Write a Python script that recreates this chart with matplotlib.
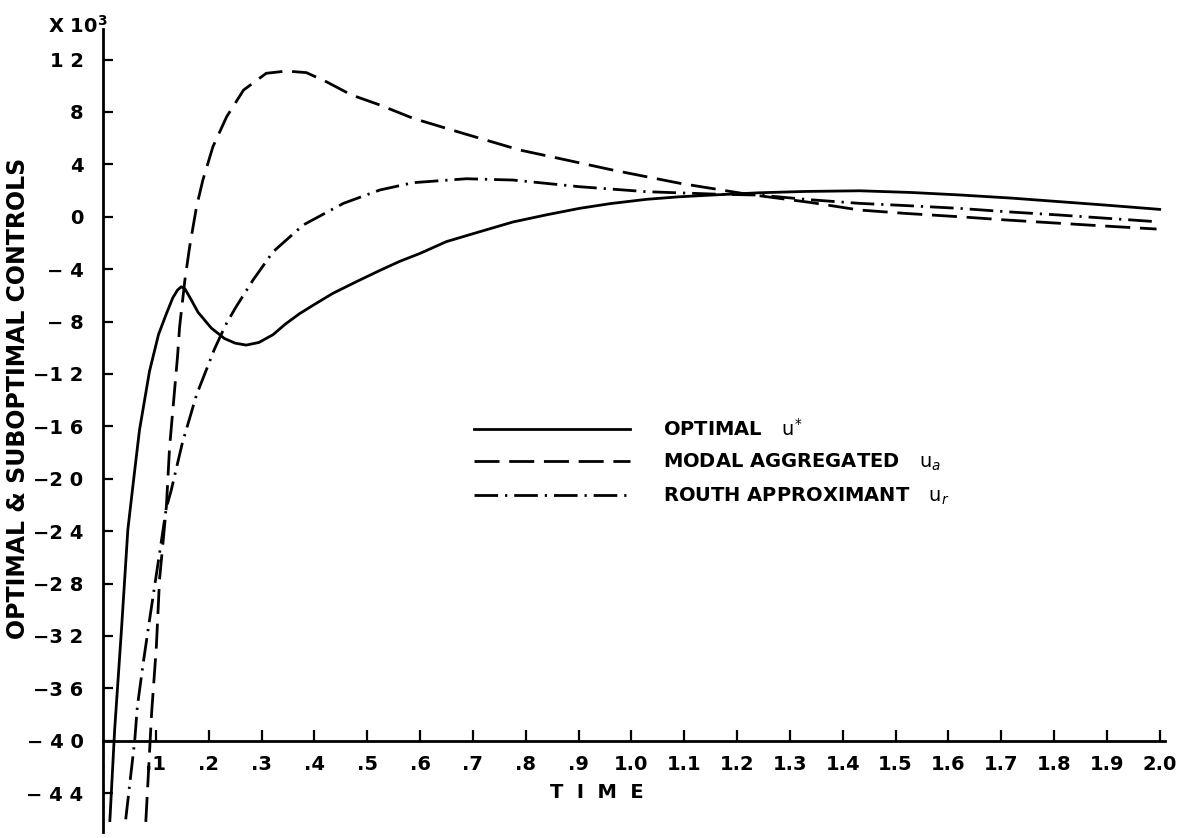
import numpy as np
import matplotlib
matplotlib.use("Agg")
import matplotlib.pyplot as plt

# ---------------- data (values in units of 10^3) ----------------
t_opt = [0.013, 0.022, 0.035, 0.047, 0.057, 0.069, 0.088, 0.105, 0.12, 0.132,
         0.141, 0.148, 0.155, 0.165, 0.18, 0.205, 0.23, 0.25, 0.271, 0.295,
         0.322, 0.345, 0.372, 0.4, 0.435, 0.48, 0.524, 0.562, 0.6, 0.65,
         0.7, 0.776, 0.84, 0.902, 0.96, 1.029, 1.09, 1.155, 1.243, 1.33,
         1.432, 1.53, 1.622, 1.72, 1.81, 1.9, 2.0]
u_opt = [-46.1, -39.2, -31.5, -23.9, -20.4, -16.3, -11.8, -9.0, -7.4, -6.2,
         -5.6, -5.35, -5.5, -6.2, -7.3, -8.5, -9.3, -9.65, -9.8, -9.6,
         -9.0, -8.2, -7.4, -6.7, -5.85, -4.95, -4.1, -3.4, -2.8, -1.9,
         -1.3, -0.4, 0.15, 0.64, 1.0, 1.33, 1.52, 1.66, 1.83, 1.93,
         1.98, 1.85, 1.66, 1.42, 1.15, 0.88, 0.56]

t_modal = [0.081, 0.092, 0.101, 0.107, 0.12, 0.126, 0.136, 0.141, 0.145, 0.155,
           0.164, 0.177, 0.189, 0.208, 0.234, 0.266, 0.309, 0.347, 0.385, 0.423,
           0.47, 0.524, 0.587, 0.681, 0.789, 0.877, 0.965, 1.092, 1.218, 1.337,
           1.432, 1.52, 1.62, 1.71, 1.81, 1.9, 1.994]
u_modal = [-46.2, -37.9, -32.8, -27.7, -22.1, -17.6, -13.0, -10.7, -8.4, -4.83,
           -2.29, 0.76, 2.8, 5.34, 7.63, 9.67, 10.95, 11.12, 11.0, 10.3,
           9.3, 8.53, 7.51, 6.37, 5.09, 4.33, 3.56, 2.55, 1.73, 1.1,
           0.51, 0.25, 0.0, -0.25, -0.5, -0.72, -0.94]

t_routh = [0.043, 0.06, 0.065, 0.076, 0.088, 0.107, 0.12, 0.129, 0.15, 0.177,
           0.211, 0.232, 0.252, 0.284, 0.322, 0.379, 0.455, 0.524, 0.587, 0.688,
           0.776, 0.902, 1.029, 1.155, 1.243, 1.337, 1.432, 1.53, 1.62, 1.71,
           1.81, 1.9, 1.994]
u_routh = [-46.0, -40.0, -37.4, -34.1, -30.8, -25.7, -22.2, -20.9, -17.3, -13.6,
           -10.1, -8.27, -6.87, -4.83, -2.67, -0.63, 1.02, 2.04, 2.6, 2.9,
           2.8, 2.29, 1.91, 1.73, 1.65, 1.3, 1.02, 0.83, 0.64, 0.38,
           0.13, -0.12, -0.38]

x_ticks = [0.1, 0.2, 0.3, 0.4, 0.5, 0.6, 0.7, 0.8, 0.9, 1.0,
           1.1, 1.2, 1.3, 1.4, 1.5, 1.6, 1.7, 1.8, 1.9, 2.0]
x_labels = [".1", ".2", ".3", ".4", ".5", ".6", ".7", ".8", ".9", "1.0",
            "1.1", "1.2", "1.3", "1.4", "1.5", "1.6", "1.7", "1.8", "1.9", "2.0"]
y_ticks = [12, 8, 4, 0, -4, -8, -12, -16, -20, -24, -28, -32, -36, -40, -44]
y_labels = ["1 2", "8", "4", "0", "\u2212 4", "\u2212 8", "\u22121 2", "\u22121 6",
            "\u22122 0", "\u22122 4", "\u22122 8", "\u22123 2", "\u22123 6",
            "\u2212 4 0", "\u2212 4 4"]

labels = ["OPTIMAL   $\\mathrm{u}^{*}$",
          "MODAL AGGREGATED   $\\mathrm{u}_{a}$",
          "ROUTH APPROXIMANT   $\\mathrm{u}_{r}$"]

# ---------------- figure ----------------
plt.rcParams['font.family'] = ['DejaVu Sans']
plt.rcParams['lines.scale_dashes'] = False
W, H = 1185, 838
fig = plt.figure(figsize=(W / 100, H / 100), dpi=100)
ax = fig.add_axes([103 / W, 1 - 832.4 / H, (1165 - 103) / W, (832.4 - 29.4) / H])
ax.set_xlim(0, 2.01)
ax.set_ylim(-47, 14.3)

lw = 2.0
ax.plot(t_opt, u_opt, color='black', lw=lw, solid_joinstyle='round', label=labels[0])
ax.plot(t_modal, u_modal, color='black', lw=lw, dashes=(18, 7), label=labels[1])
ax.plot(t_routh, u_routh, color='black', lw=lw, dashes=(17, 5, 1.6, 5), label=labels[2])

# spines
ax.spines['top'].set_visible(False)
ax.spines['right'].set_visible(False)
ax.spines['bottom'].set_position(('data', -40))
ax.spines['bottom'].set_linewidth(2.0)
ax.spines['left'].set_linewidth(2.0)

ax.set_xticks(x_ticks)
ax.set_xticklabels(x_labels)
ax.set_yticks(y_ticks)
ax.set_yticklabels(y_labels)
ax.tick_params(axis='x', direction='in', length=8, width=1.6, pad=10,
               labelsize=14)
ax.tick_params(axis='y', direction='in', length=7, width=1.6, pad=14,
               labelsize=14)
for lab in ax.get_xticklabels() + ax.get_yticklabels():
    lab.set_fontweight('bold')

# axis titles
fig.text(18 / W, 1 - 398 / H, "OPTIMAL & SUBOPTIMAL CONTROLS", rotation=90,
         ha='center', va='center', fontsize=17, fontweight='bold')
fig.text(597 / W, 1 - 792 / H, "T  I  M  E", ha='center', va='center',
         fontsize=14, fontweight='bold')
fig.text(48 / W, 1 - 26 / H, "X 10$^{\\mathbf{3}}$", ha='left', va='center',
         fontsize=14, fontweight='bold')

leg = ax.legend(loc='upper left', bbox_to_anchor=(474 / W, 1 - 418 / H),
                bbox_transform=fig.transFigure, frameon=False,
                handlelength=8.0, handletextpad=1.7, labelspacing=0.62,
                borderpad=0, borderaxespad=0,
                prop={'size': 14, 'weight': 'bold'})

fig.savefig('out.png', dpi=100)
